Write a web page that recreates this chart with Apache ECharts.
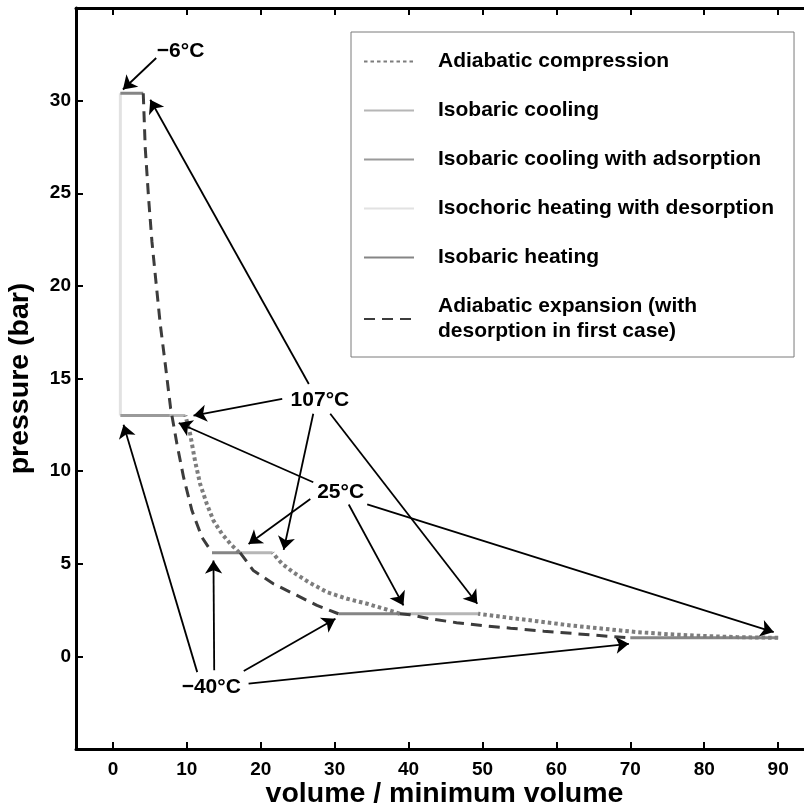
<!DOCTYPE html>
<html>
<head>
<meta charset="utf-8">
<script src="https://cdn.jsdelivr.net/npm/echarts@6/dist/echarts.min.js"></script>
<style>
html,body{margin:0;padding:0;background:#fff;overflow:hidden;}
#chart{width:804px;height:807px;}
</style>
</head>
<body>
<div id="chart"></div>
<script>
// ---- Data (volume / minimum volume, pressure in bar) ----
const xTicks = [0, 10, 20, 30, 40, 50, 60, 70, 80, 90];
const yTicks = [0, 5, 10, 15, 20, 25, 30];

const seriesNames = [
  'Adiabatic compression',
  'Isobaric cooling',
  'Isobaric cooling with adsorption',
  'Isochoric heating with desorption',
  'Isobaric heating',
  'Adiabatic expansion (with desorption in first case)'
];

const adiabaticCompression = [
  [90, 1.0], [84.4, 1.04], [79.9, 1.10], [75.4, 1.19], [70.9, 1.31], [66.4, 1.49],
  [61.9, 1.67], [57.4, 1.90], [52.9, 2.12], [49.4, 2.3],
  null,
  [38.8, 2.3], [37.1, 2.52], [34.4, 2.84], [31.7, 3.11], [29.0, 3.46], [26.5, 4.0],
  [24.4, 4.54], [22.9, 4.99], [22.0, 5.4], [21.6, 5.6],
  null,
  [17.1, 5.6], [15.9, 6.07], [14.75, 6.61], [13.6, 7.33], [12.7, 8.23], [11.8, 9.3],
  [11.1, 10.56], [10.45, 12.0], [9.8, 13.0]
];

const isobaricCooling = [
  [9.8, 13.0], [7.7, 13.0],
  null,
  [21.6, 5.6], [17.2, 5.6],
  null,
  [49.4, 2.3], [38.8, 2.3]
];

const isobaricCoolingAdsorption = [
  [7.7, 13.0], [1.0, 13.0]
];

const isochoricHeating = [
  [1.0, 13.0], [1.0, 30.4]
];

const isobaricHeating = [
  [1.0, 30.4], [4.1, 30.4],
  null,
  [13.4, 5.6], [17.2, 5.6],
  null,
  [30.5, 2.3], [38.8, 2.3],
  null,
  [70, 1.0], [90, 1.0]
];

const adiabaticExpansion = [
  [4.1, 30.4], [4.37, 27.44], [4.82, 24.75], [5.27, 22.41], [5.81, 20.26], [6.40, 17.93],
  [7.08, 15.77], [7.8, 13.4], [8.66, 11.46], [9.56, 9.66], [10.69, 7.87], [12.04, 6.43], [13.4, 5.6],
  null,
  [17.2, 5.6], [19.0, 4.63], [21.7, 3.92], [24.9, 3.29], [27.6, 2.75], [30.5, 2.3],
  null,
  [38.8, 2.3], [40.2, 2.25], [42.9, 2.03], [46.5, 1.82], [50.0, 1.66], [53.8, 1.52],
  [58.3, 1.36], [62.8, 1.22], [67.3, 1.08], [70, 1.0]
];

// temperature annotations: text and position
const annotationTexts = ['\u22126\u00b0C', '107\u00b0C', '25\u00b0C', '\u221240\u00b0C'];
const annotationPositions = [[9.15, 32.65], [28.0, 13.85], [30.8, 8.85], [13.3, -1.69]];

// arrows: [start, tip]
const arrows = [
  [[5.85, 32.3], [1.35, 30.6]],
  [[26.5, 14.7], [5.05, 30.05]],
  [[22.9, 13.9], [10.9, 13.0]],
  [[27.1, 13.1], [23.1, 5.75]],
  [[29.4, 13.1], [49.3, 2.84]],
  [[27.1, 9.4], [8.9, 12.6]],
  [[26.7, 8.5], [18.35, 6.07]],
  [[31.9, 8.2], [39.3, 2.75]],
  [[34.4, 8.2], [89.4, 1.31]],
  [[11.4, -0.85], [1.43, 12.5]],
  [[13.7, -0.75], [13.6, 5.17]],
  [[17.7, -0.79], [30.1, 2.03]],
  [[18.35, -1.47], [69.8, 0.68]]
];

// ---- Chart ----
const FONT = 'Liberation Sans, Arial, Helvetica, sans-serif';
const chart = echarts.init(document.getElementById('chart'), null, {renderer: 'canvas'});

function lineSeries(name, data, color, width, type, z) {
  return {
    name: name,
    type: 'line',
    data: data.map(p => p === null ? '-' : p),
    connectNulls: false,
    showSymbol: false,
    symbol: 'none',
    symbolSize: 0,
    smooth: false,
    silent: true,
    z: z,
    lineStyle: {color: color, width: width, type: type, cap: 'butt'},
    itemStyle: {color: color},
    emphasis: {disabled: true}
  };
}

const axisCommon = {
  type: 'value',
  axisLine: {show: true, onZero: false, lineStyle: {color: '#000', width: 3}},
  axisTick: {show: true, inside: true, length: 7, lineStyle: {color: '#000', width: 2}},
  splitLine: {show: false}
};

const option = {
  animation: false,
  backgroundColor: '#fff',
  textStyle: {fontFamily: FONT},
  grid: {left: 76, right: 0, top: 8, bottom: 58, containLabel: false, outerBoundsMode: 'none'},
  xAxis: [
    Object.assign({}, axisCommon, {
      position: 'bottom',
      min: -5, max: 93.5,
      axisTick: Object.assign({}, axisCommon.axisTick, {customValues: xTicks}),
      axisLabel: {customValues: xTicks, margin: 11, color: '#000', fontSize: 19, fontWeight: 'bold', fontFamily: FONT},
      name: 'volume / minimum volume',
      nameLocation: 'middle',
      nameGap: 31,
      nameMoveOverlap: false,
      nameTextStyle: {color: '#000', fontSize: 28.5, fontWeight: 'bold', fontFamily: FONT, padding: [0, 0, 0, 9]}
    }),
    Object.assign({}, axisCommon, {
      position: 'top',
      min: -5, max: 93.5,
      axisTick: Object.assign({}, axisCommon.axisTick, {customValues: xTicks}),
      axisLabel: {show: false}
    })
  ],
  yAxis: [
    Object.assign({}, axisCommon, {
      position: 'left',
      min: -5, max: 35, interval: 5,
      axisTick: Object.assign({}, axisCommon.axisTick, {customValues: yTicks}),
      axisLabel: {customValues: yTicks, margin: 5, color: '#000', fontSize: 19, fontWeight: 'bold', fontFamily: FONT},
      name: 'pressure (bar)',
      nameLocation: 'middle',
      nameGap: 41,
      nameMoveOverlap: false,
      nameRotate: 90,
      nameTextStyle: {color: '#000', fontSize: 28.5, fontWeight: 'bold', fontFamily: FONT}
    })
  ],
  legend: {
    show: true,
    orient: 'vertical',
    left: 351,
    top: 32,
    data: seriesNames,
    itemWidth: 50,
    itemHeight: 14,
    itemGap: 24,
    padding: [17, 20, 13, 12],
    borderColor: '#7a7a7a',
    borderWidth: 1,
    backgroundColor: '#fff',
    selectedMode: false,
    itemStyle: {opacity: 0, borderWidth: 0},
    formatter: function (name) {
      return name === seriesNames[5] ? 'Adiabatic expansion (with\ndesorption in first case)' : name;
    },
    textStyle: {color: '#000', fontSize: 21, fontWeight: 'bold', fontFamily: FONT, lineHeight: 25, padding: [0, 0, 0, 19]}
  },
  series: [
    lineSeries(seriesNames[3], isochoricHeating, '#e2e2e2', 3, 'solid', 2),
    lineSeries(seriesNames[2], isobaricCoolingAdsorption, '#9a9a9a', 3, 'solid', 3),
    lineSeries(seriesNames[1], isobaricCooling, '#b6b6b6', 3, 'solid', 3),
    lineSeries(seriesNames[4], isobaricHeating, '#858585', 3, 'solid', 3),
    lineSeries(seriesNames[0], adiabaticCompression, '#7d7d7d', 4, [3.5, 3], 4),
    lineSeries(seriesNames[5], adiabaticExpansion, '#3c3c3c', 3, [11, 7], 5),
    {
      name: 'annotations',
      type: 'scatter',
      silent: true,
      z: 6,
      symbolSize: 1,
      itemStyle: {color: 'rgba(0,0,0,0)', opacity: 1},
      data: annotationTexts.map((t, i) => ({name: t, value: annotationPositions[i]})),
      label: {
        show: true,
        position: 'inside',
        formatter: p => p.name,
        color: '#000',
        opacity: 1,
        fontSize: 21,
        fontWeight: 'bold',
        fontFamily: FONT
      },
      markLine: {
        silent: true,
        animation: false,
        symbol: ['none', 'arrow'],
        symbolSize: 13,
        label: {show: false},
        lineStyle: {color: '#000', width: 1.8, type: 'solid', opacity: 1},
        emphasis: {disabled: true},
        data: arrows.map(a => [{coord: a[0]}, {coord: a[1]}])
      }
    }
  ]
};

chart.setOption(option);
</script>
</body>
</html>
